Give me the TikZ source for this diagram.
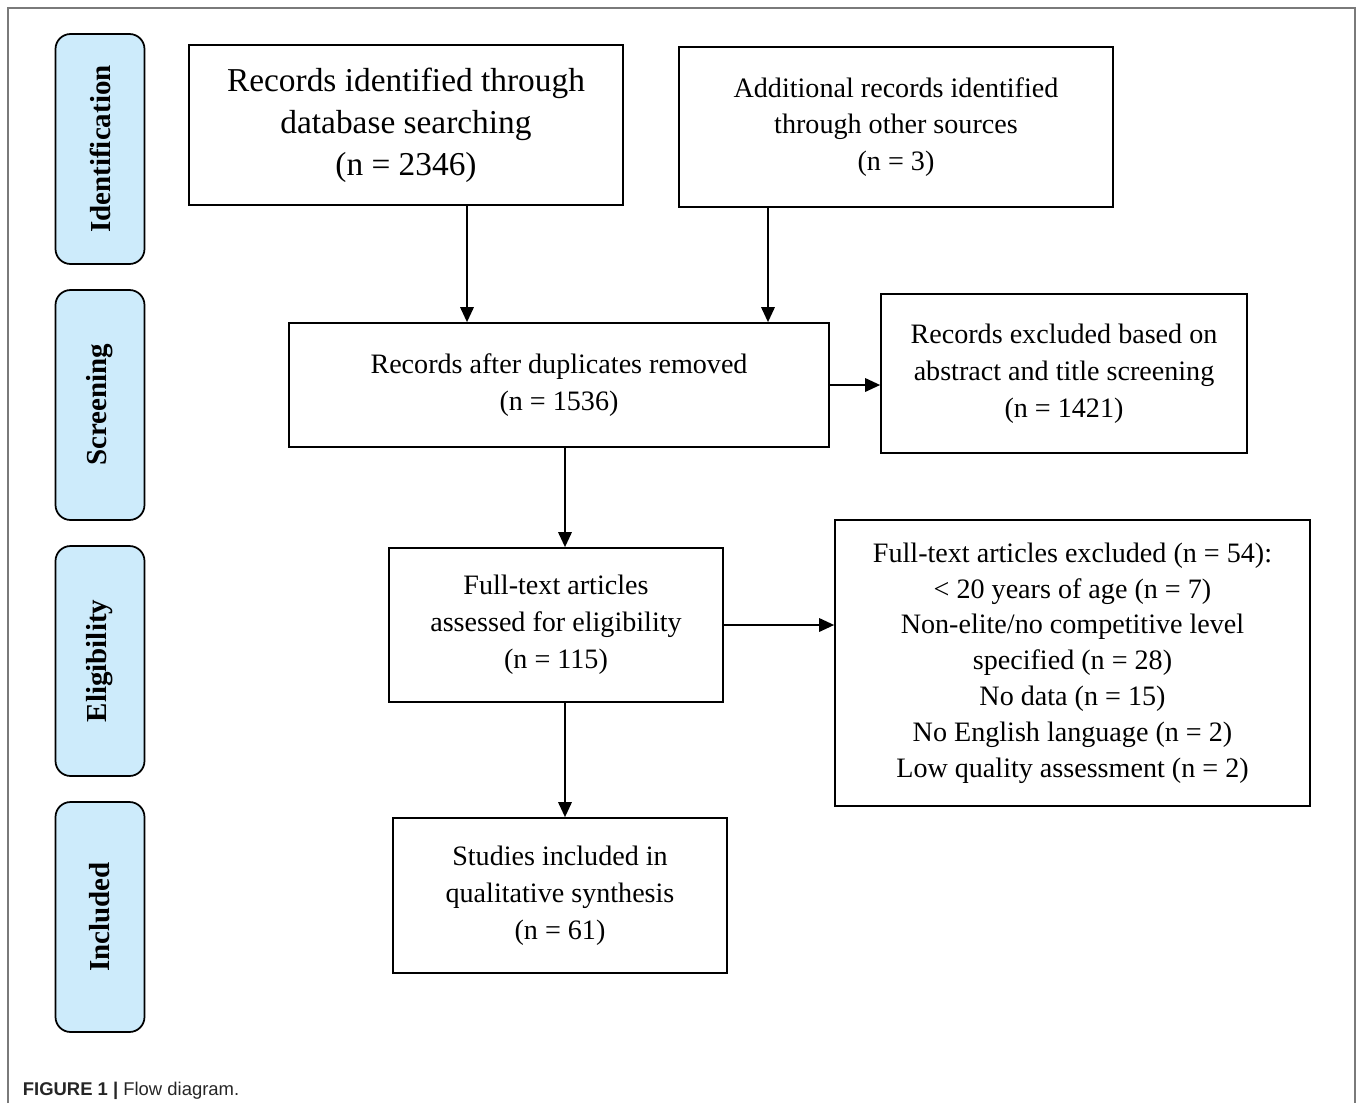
\documentclass[tikz,border=0pt]{standalone}
\usepackage{fontspec}
\setmainfont{Liberation Serif}
\newfontfamily\captionfont{Liberation Sans}
\usepackage{xcolor}
\usetikzlibrary{arrows.meta,positioning}
\definecolor{stageblue}{HTML}{CDEBFB}
\definecolor{framegray}{HTML}{7A7A7A}

\begin{document}
\begin{tikzpicture}
	[x=0.02cm,y=-0.02cm,
	 every node/.style={draw,line width=1pt,align=center,inner sep=0pt,font=\fontsize{16}{21}\selectfont},
	 stage/.style={rotate=90,rounded corners=0.3cm,fill=stageblue,minimum width=4.6cm,minimum height=1.78cm,font=\bfseries\fontsize{16.5}{20}\selectfont},
	 flow/.style={-{Triangle[length=0.3cm,width=0.27cm]},line width=1pt}]

	\useasboundingbox (0,0) rectangle (1360,1103);
	%\draw[help lines,step=50] (0,0) grid (1360,1103);
	\draw[framegray,line width=1.4pt] (8,1103) -- (8,8) -- (1355,8) -- (1355,1103);

	% stages
	\node[stage] (ident) at (100,149) {Identification};
	\node[stage] (screen) at (100,405) {Screening};
	\node[stage] (elig) at (100,661) {Eligibility};
	\node[stage] (incl) at (100,917) {Included};

	% boxes
	\node[minimum width=8.68cm,minimum height=3.2cm,font=\fontsize{19}{24}\selectfont] (db) at (406,125) {Records identified through\\database searching\\(n = 2346)};
	\node[minimum width=8.68cm,minimum height=3.2cm] (other) at (896,127) {Additional records identified\\through other sources\\(n = 3)};
	\node[minimum width=10.8cm,minimum height=2.48cm] (dup) at (559,385) {Records after duplicates removed\\(n = 1536)};
	\node[minimum width=7.32cm,minimum height=3.18cm] (excl1) at (1064,373.5) {Records excluded based on\\abstract and title screening\\(n = 1421)};
	\node[minimum width=6.68cm,minimum height=3.08cm] (full) at (556,625) {Full-text articles\\assessed for eligibility\\(n = 115)};
	\node[minimum width=9.5cm,minimum height=5.72cm,font=\fontsize{16}{20.4}\selectfont] (excl2) at (1072.5,663) {Full-text articles excluded (n = 54):\\< 20 years of age (n = 7)\\Non-elite/no competitive level\\specified (n = 28)\\No data (n = 15)\\No English language (n = 2)\\Low quality assessment (n = 2)};
	\node[minimum width=6.68cm,minimum height=3.1cm] (studies) at (560,895.5) {Studies included in\\qualitative synthesis\\(n = 61)};

	\node[draw=none,anchor=base west,text=black!85,font=\captionfont\fontsize{10.5}{12}\selectfont] (caption) at (22,1095) {\textbf{FIGURE 1 |} Flow diagram.};

	% arrows
	\coordinate (colA) at (467,0);
	\coordinate (colB) at (768,0);
	\coordinate (colC) at (565,0);

	\path (db.south -| colA) edge[flow] (colA |- dup.north);
	\path (other.south -| colB) edge[flow] (colB |- dup.north);
	\path (dup.east) edge[flow] (dup.east -| excl1.west);
	\path (dup.south -| colC) edge[flow] (colC |- full.north);
	\path (full.east) edge[flow] (full.east -| excl2.west);
	\path (full.south -| colC) edge[flow] (colC |- studies.north);

\end{tikzpicture}
\end{document}
